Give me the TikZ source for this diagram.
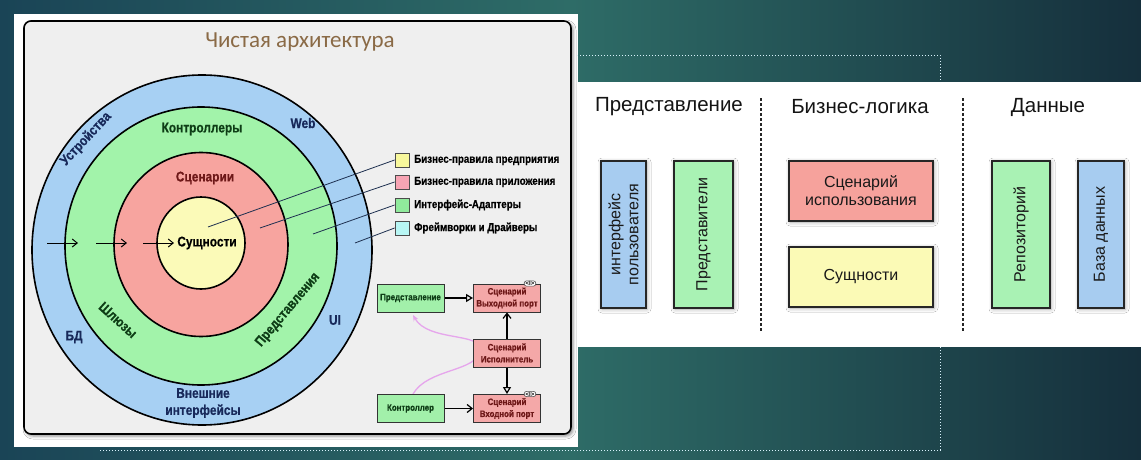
\documentclass[tikz,border=0pt]{standalone}
\usepackage{fontspec}
\setmainfont{Liberation Sans}
\newfontfamily\cnd[FakeStretch=0.85, BoldFeatures={FakeBold=0.5}]{Liberation Sans}
\newfontfamily\ttl{Carlito}
\usetikzlibrary{arrows.meta,shadows.blur}
\definecolor{bgL}{HTML}{1A4456}
\definecolor{bgM}{HTML}{2E6C67}
\definecolor{bgR}{HTML}{152F3C}
\definecolor{panelgray}{HTML}{EFEFEF}
\definecolor{ringB}{HTML}{A7D0F3}
\definecolor{ringG}{HTML}{A2F3AA}
\definecolor{ringR}{HTML}{F7A49F}
\definecolor{ringY}{HTML}{FBFAB8}
\definecolor{lgY}{HTML}{F8F89C}
\definecolor{lgP}{HTML}{F7A4B4}
\definecolor{lgG}{HTML}{90EA9C}
\definecolor{lgC}{HTML}{B8F6F4}
\definecolor{miniG}{HTML}{A2F0AA}
\definecolor{miniP}{HTML}{F4A8A8}
\definecolor{rS}{HTML}{F6A29C}
\definecolor{rY}{HTML}{FBFAB6}
\definecolor{rG}{HTML}{A9F2B4}
\definecolor{rB}{HTML}{A7CCF0}
\definecolor{ttlc}{HTML}{8A6A46}
\definecolor{txB}{HTML}{18295A}
\definecolor{txG}{HTML}{0E3D16}
\definecolor{txR}{HTML}{6E1818}
\definecolor{lineC}{HTML}{1E3050}
\definecolor{curveC}{HTML}{E6A6EC}
\tikzset{
  ringtxt/.style={font=\cnd\bfseries\fontsize{14}{16}\selectfont},
  legsq/.style={draw=black!70, line width=0.8pt, minimum size=14pt, inner sep=0pt},
  legtxt/.style={font=\cnd\bfseries\fontsize{11.5}{13}\selectfont, anchor=west, inner sep=0pt},
  legline/.style={draw=lineC, line width=0.8pt},
  ringarrow/.style={draw=black, line width=1pt, -{Straight Barb[length=5pt,width=8pt]}},
  minibox/.style={draw=black!80, line width=1pt, minimum width=67pt, minimum height=28pt, inner sep=1pt, align=center, font=\cnd\bfseries\fontsize{9.3}{12}\selectfont},
  tabI/.style={draw=black!70, fill=white, rounded corners=2.5pt, inner xsep=1.5pt, inner ysep=0.6pt, line width=0.6pt, font=\fontsize{6}{6}\selectfont\bfseries},
  rbox/.style={draw=black!85, line width=1.6pt, inner sep=0pt, blur shadow={shadow xshift=1pt, shadow yshift=-1pt, shadow blur radius=4pt, shadow opacity=35}},
  rtxt/.style={font=\fontsize{16}{18}\selectfont, text=black!90, align=center, inner sep=0pt},
  rhead/.style={font=\fontsize{20.5}{22}\selectfont, text=black!92},
  sep/.style={draw=black!85, line width=1.6pt, dash pattern=on 2.5pt off 2.5pt},
  dotw/.style={draw=white!85!cyan, line width=0.9pt, dash pattern=on 1.2pt off 1.8pt}
}
\begin{document}
\begin{tikzpicture}[x=1pt,y=-1pt]
\useasboundingbox (0,0) rectangle (1141,460);
% background
\shade[left color=bgL, right color=bgR, middle color=bgM] (0,0) rectangle (1141,460);
% white panels
\fill[white] (14,14) rectangle (578,447);
\fill[white] (577,82) rectangle (1141,347);
% dotted frame
\coordinate (d1) at (577,55);
\coordinate (d2) at (940,55);
\coordinate (d3) at (940,82);
\coordinate (d4) at (940,347);
\coordinate (d5) at (940,450);
\coordinate (d6) at (100,450);
\draw[dotw] (d1) -- (d2) -- (d3);
\draw[dotw] (d4) -- (d5) -- (d6);
% left panel
\draw[fill=panelgray, line width=1.6pt, rounded corners=7pt,
  blur shadow={shadow xshift=2pt, shadow yshift=-2pt, shadow blur radius=3pt, shadow opacity=45}]
  (24,21) rectangle (571,434);
\node[font=\ttl\fontsize{23}{25}\selectfont, text=ttlc] (title) at (300,42) {Чистая архитектура};
% rings
\draw[fill=ringB, line width=1.6pt] (202,250) ellipse [x radius=170pt, y radius=175pt];
\draw[fill=ringG, line width=1.6pt] (201,246) ellipse [x radius=136pt, y radius=139pt];
\draw[fill=ringR, line width=1.6pt] (201,244.5) ellipse [x radius=87pt, y radius=92pt];
\draw[fill=ringY, line width=1.6pt] (201,243) ellipse [x radius=44pt, y radius=46pt];
% ring labels
\node[ringtxt, text=txB, rotate=47] (dev) at (86,139) {Устройства};
\node[ringtxt, text=txB] (web) at (303,123) {Web};
\node[ringtxt, text=txG] (ctrl) at (202,129) {Контроллеры};
\node[ringtxt, text=txR] (scen) at (205,178) {Сценарии};
\node[ringtxt, text=black] (ent) at (207,243) {Сущности};
\node[ringtxt, text=txG, rotate=-42] (gw) at (118,320) {Шлюзы};
\node[ringtxt, text=txG, rotate=50] (pres) at (288,310) {Представления};
\node[ringtxt, text=txB] (db) at (74,337) {БД};
\node[ringtxt, text=txB] (ui) at (335,320) {UI};
\node[ringtxt, text=txB, align=center, font=\cnd\bfseries\fontsize{14}{17}\selectfont] (ext) at (203,403) {Внешние\\интерфейсы};
% ring arrows
\coordinate (a1s) at (47,243); \coordinate (a1e) at (78,243);
\coordinate (a2s) at (96,243); \coordinate (a2e) at (127,243);
\coordinate (a3s) at (143,243); \coordinate (a3e) at (174,243);
\draw[ringarrow] (a1s) -- (a1e);
\draw[ringarrow] (a2s) -- (a2e);
\draw[ringarrow] (a3s) -- (a3e);
% legend
\node[legsq, fill=lgY] (sq1) at (402,160) {};
\node[legsq, fill=lgP] (sq2) at (402,182) {};
\node[legsq, fill=lgG] (sq3) at (402,205) {};
\node[legsq, fill=lgC] (sq4) at (402,228) {};
\node[legtxt] (lt1) at (414,160) {Бизнес-правила предприятия};
\node[legtxt] (lt2) at (414,182) {Бизнес-правила приложения};
\node[legtxt] (lt3) at (414,205) {Интерфейс-Адаптеры};
\node[legtxt] (lt4) at (414,228) {Фреймворки и Драйверы};
\coordinate (c1) at (208,227);
\coordinate (c2) at (260,228);
\coordinate (c3) at (313,234);
\coordinate (c4) at (355,243);
\draw[legline] (sq1.west) -- (c1);
\draw[legline] (sq2.west) -- (c2);
\draw[legline] (sq3.west) -- (c3);
\draw[legline] (sq4.west) -- (c4);
% mini diagram
\coordinate (cv0) at (413,394);
\coordinate (cv1) at (413,315);
\draw[curveC, line width=1.3pt, -{Stealth[length=6pt,width=5pt]}]
  (cv0) .. controls (428,368) and (478,372) .. (480,350)
  .. controls (482,332) and (428,342) .. (cv1);
\node[minibox, fill=miniG, text=txG] (mPres) at (410.5,298) {Представление};
\node[minibox, fill=miniP, text=txR] (mOut) at (507,298) {Сценарий\\Выходной порт};
\node[minibox, fill=miniP, text=txR] (mInt) at (507,353) {Сценарий\\Исполнитель};
\node[minibox, fill=miniG, text=txG] (mCtl) at (410.5,408.5) {Контроллер};
\node[minibox, fill=miniP, text=txR] (mIn) at (507,408.5) {Сценарий\\Входной порт};
\node[tabI] (tab1) at (mOut.north east) [xshift=-11pt] {<I>};
\node[tabI] (tab2) at (mIn.north east) [xshift=-11pt] {<I>};
\draw[line width=1.2pt, -{Triangle[open,length=7pt,width=8pt]}] (mPres) -- (mOut);
\draw[line width=1.2pt, -{Straight Barb[length=5pt,width=8pt]}] (mInt) -- (mOut);
\draw[line width=1.2pt, -{Triangle[open,length=7pt,width=8pt]}] (mInt) -- (mIn);
\draw[line width=1.2pt, -{Straight Barb[length=5pt,width=8pt]}] (mCtl) -- (mIn);
% right panel
\node[rhead] (h1) at (669,107) {Представление};
\node[rhead] (h2) at (860,107) {Бизнес-логика};
\node[rhead] (h3) at (1048,107) {Данные};
\coordinate (s1a) at (761,98); \coordinate (s1b) at (761,332);
\coordinate (s2a) at (963,98); \coordinate (s2b) at (963,332);
\draw[sep] (s1a) -- (s1b);
\draw[sep] (s2a) -- (s2b);
\node[rbox, fill=rB, minimum width=45pt, minimum height=147pt] (bUI) at (623.5,234.5) {};
\node[rtxt, rotate=90] at (bUI.center) {интерфейс\\пользователя};
\node[rbox, fill=rG, minimum width=59pt, minimum height=147pt] (bPr) at (703.5,234.5) {};
\node[rtxt, rotate=90] at (bPr.center) {Представители};
\node[rbox, fill=rS, minimum width=144pt, minimum height=60pt, rtxt] (bSc) at (861,191) {Сценарий\\использования};
\node[rbox, fill=rY, minimum width=144pt, minimum height=60pt, rtxt] (bEn) at (861,277) {Сущности};
\node[rbox, fill=rG, minimum width=58pt, minimum height=147pt] (bRe) at (1021,234.5) {};
\node[rtxt, rotate=90] at (bRe.center) {Репозиторий};
\node[rbox, fill=rB, minimum width=46pt, minimum height=147pt] (bDB) at (1101,234.5) {};
\node[rtxt, rotate=90] at (bDB.center) {База данных};
\end{tikzpicture}
\end{document}
